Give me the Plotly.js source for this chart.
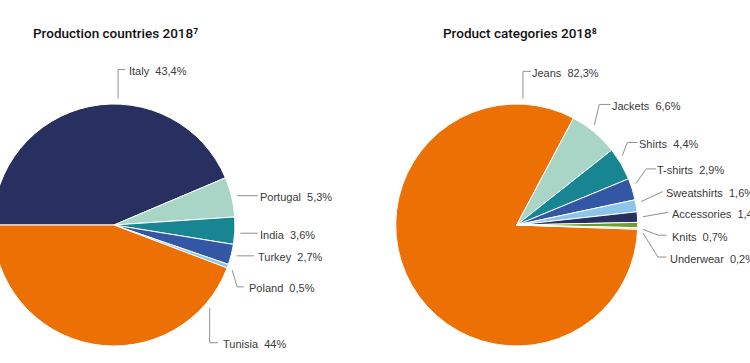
<!DOCTYPE html>
<html><head><meta charset="utf-8">
<script src="https://cdn.plot.ly/plotly-3.0.1.min.js"></script>
<style>
html,body{margin:0;padding:0;overflow:hidden;background:#fff;width:750px;height:363px}
#chart{position:absolute;left:-20px;top:0;width:790px;height:363px}
</style>
</head><body><div id="chart"></div>
<script>
// ---- data ----
const countryLabels = ['Italy','Portugal','India','Turkey','Poland','Tunisia'];
const countryValues = [43.4, 5.3, 3.6, 2.7, 0.5, 44];
const categoryLabels = ['Jeans','Jackets','Shirts','T-shirts','Sweatshirts','Accessories','Knits','Underwear'];
const categoryValues = [82.3, 6.6, 4.4, 2.9, 1.6, 1.4, 0.7, 0.2];
const titleCountries = 'Production countries 2018\u2077';
const titleCategories = 'Product categories 2018\u2078';

// ---- styles ----
const countryColors = ['#28305f','#a8d5c5','#178692','#3457a5','#8dc4ea','#ec7003'];
const categoryColors = ['#ec7003','#a8d5c5','#178692','#3457a5','#8dc4ea','#28305f','#6b9e34','#f3c9a6'];

const W = 790, H = 363, OFF = 20;
const leftPie = {cx:114, cy:225, r:121, rotation:-90};
const rightPie = {cx:516.7, cy:225, r:121, rotation:92};

// label leader layout: position within slice (frac), angle nudge, segments, text gap
const leftLayout = [
  {frac:0.585, seg:[[0,-29],[7,0]], gap:4},
  {seg:[[20.7,0]], gap:2.6},
  {nudge:1, seg:[[17.4,0]], gap:2.6},
  {seg:[[17.3,0]], gap:4},
  {nudge:1, seg:[[5,16.7],[6.6,0]], gap:5},
  {frac:0.126, seg:[[0,35],[8.3,0]], gap:5}
];
const rightLayout = [
  {frac:0.915, seg:[[0,-27.3],[8,0]], gap:1.5},
  {nudge:-2, seg:[[5,-20.7],[11,0]], gap:1.7},
  {nudge:-3, seg:[[5,-13],[10,0]], gap:2},
  {nudge:-2, seg:[[10,-14.4],[10,0]], gap:0.5},
  {nudge:-1.5, seg:[[21.6,-10]], gap:3.5},
  {seg:[[25,-4.3]], gap:4},
  {nudge:2, seg:[[15,5.7],[8.4,0]], gap:5},
  {nudge:2, seg:[[15,24],[8.4,0]], gap:4}
];

const fx = x => (x + OFF) / W;
const fy = y => (H - y) / H;
const fmt = v => String(v).replace('.', ',') + '%';

function domainOf(p){
  return {x:[fx(p.cx - p.r), fx(p.cx + p.r)], y:[fy(p.cy + p.r), fy(p.cy - p.r)]};
}

const shapes = [], annotations = [];
function addLabels(p, labels, values, lay){
  const total = values.reduce((a,b)=>a+b,0);
  let start = p.rotation;
  labels.forEach((lab, i) => {
    const span = values[i] / total * 360;
    const L = lay[i];
    const ang = (start + span * (L.frac == null ? 0.5 : L.frac) + (L.nudge || 0)) * Math.PI / 180;
    start += span;
    const rr = p.r + 5.5;
    let x = p.cx + rr * Math.sin(ang), y = p.cy - rr * Math.cos(ang);
    let path = 'M' + fx(x) + ',' + fy(y);
    L.seg.forEach(s => { x += s[0]; y += s[1]; path += ' L' + fx(x) + ',' + fy(y); });
    shapes.push({type:'path', xref:'paper', yref:'paper', path:path, line:{color:'#8f8f8f', width:1}});
    annotations.push({xref:'paper', yref:'paper', x:fx(x + L.gap), y:fy(y + 1.5), xanchor:'left', yanchor:'middle',
      text: lab + '\u00a0\u00a0' + fmt(values[i]), showarrow:false, borderpad:0, borderwidth:0,
      font:{family:'Liberation Sans, Arial, sans-serif', size:11, color:'#3a3a3a'}});
  });
}
addLabels(leftPie, countryLabels, countryValues, leftLayout);
addLabels(rightPie, categoryLabels, categoryValues, rightLayout);

const titleFont = {family:'Roboto, Liberation Sans, sans-serif', size:13.5, color:'#111', weight:500};
annotations.push({xref:'paper', yref:'paper', x:fx(31.5), y:fy(33), xanchor:'left', yanchor:'middle', showarrow:false, borderpad:0, text:titleCountries, font:titleFont});
annotations.push({xref:'paper', yref:'paper', x:fx(441.5), y:fy(33), xanchor:'left', yanchor:'middle', showarrow:false, borderpad:0, text:titleCategories, font:titleFont});

function pieTrace(p, labels, values, colors){
  return {type:'pie', labels:labels, values:values, sort:false, direction:'clockwise', rotation:p.rotation,
    textinfo:'none', hoverinfo:'label+percent', showlegend:false,
    marker:{colors:colors, line:{color:'#ffffff', width:1}}, domain:domainOf(p)};
}

Plotly.newPlot('chart', [
  pieTrace(leftPie, countryLabels, countryValues, countryColors),
  pieTrace(rightPie, categoryLabels, categoryValues, categoryColors)
], {
  width:W, height:H, margin:{l:0,r:0,t:0,b:0,pad:0},
  paper_bgcolor:'#fff', plot_bgcolor:'#fff', showlegend:false,
  shapes:shapes, annotations:annotations
}, {displayModeBar:false, staticPlot:true});
</script>
</body></html>
